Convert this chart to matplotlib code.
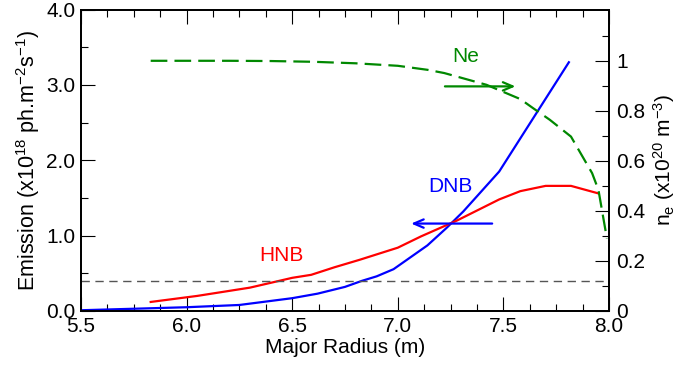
import numpy as np
import matplotlib
matplotlib.use('Agg')
from matplotlib import pyplot as plt
from matplotlib.ticker import MultipleLocator, FixedLocator, FormatStrFormatter

plt.rcParams['font.family'] = ['Liberation Sans', 'DejaVu Sans']
plt.rcParams['mathtext.fontset'] = 'custom'
plt.rcParams['mathtext.rm'] = 'Liberation Sans'
plt.rcParams['mathtext.it'] = 'Liberation Sans:italic'

# DNB emission (x1e18 ph m-2 s-1) vs major radius
dnb_r = [5.5, 5.75, 6.0, 6.25, 6.5, 6.62, 6.75, 6.83, 6.9, 6.98, 7.14, 7.23, 7.31, 7.48, 7.81]
dnb_em = [0.01, 0.03, 0.05, 0.08, 0.17, 0.23, 0.32, 0.40, 0.46, 0.555, 0.87, 1.10, 1.32, 1.85, 3.30]

# HNB emission
hnb_r = [5.83, 6.05, 6.30, 6.50, 6.59, 6.70, 6.82, 7.0, 7.11, 7.28, 7.48, 7.58, 7.70, 7.82, 7.95]
hnb_em = [0.12, 0.20, 0.31, 0.44, 0.48, 0.58, 0.68, 0.84, 0.99, 1.20, 1.48, 1.59, 1.66, 1.66, 1.56]

# electron density (x1e20 m-3)
ne_r = [5.83, 6.0, 6.2, 6.4, 6.6, 6.8, 7.0, 7.14, 7.22, 7.42, 7.58, 7.64, 7.72, 7.82, 7.92, 7.95, 7.99]
ne_val = [1.0, 1.0, 1.0, 0.999, 0.996, 0.99, 0.98, 0.964, 0.951, 0.904, 0.847, 0.811, 0.764, 0.697, 0.551, 0.484, 0.29]

bg_level = 0.4

ne_ticks = [0, 0.2, 0.4, 0.6, 0.8, 1.0]
ne_minor = [0.1, 0.3, 0.5, 0.7, 0.9, 1.1]

fig = plt.figure(figsize=(6.81, 3.71), dpi=100)
ax = fig.add_axes([81/681, 1-311/371, 528/681, 301.5/371])
ax2 = ax.twinx()

ax.plot(dnb_r, dnb_em, color='#0000ff', lw=1.6)
ax.plot(hnb_r, hnb_em, color='#ff0000', lw=1.6)
ax.axhline(bg_level, color='#555555', lw=1.0, ls=(0, (6, 4)))
ax2.plot(ne_r, ne_val, color='#008800', lw=1.6, ls=(0, (7.5, 3.2)))

ax.set_xlim(5.5, 8.0)
ax.set_ylim(0, 4.0)
ax2.set_ylim(0, 1.205)

# arrows + labels
ax.annotate('', xy=(7.57, 2.98), xytext=(7.21, 2.98),
            arrowprops=dict(arrowstyle='->,head_length=0.7,head_width=0.3', color='#008800', lw=1.6))
ax.annotate('', xy=(7.05, 1.16), xytext=(7.46, 1.16),
            arrowprops=dict(arrowstyle='->,head_length=0.7,head_width=0.3', color='#0000ff', lw=1.6))
ax.text(7.32, 3.37, 'Ne', color='#008800', fontsize=15, ha='center', va='center')
ax.text(7.25, 1.65, 'DNB', color='#0000ff', fontsize=15, ha='center', va='center')
ax.text(6.45, 0.74, 'HNB', color='#ff0000', fontsize=15, ha='center', va='center')

ax.xaxis.set_major_locator(MultipleLocator(0.5))
ax.xaxis.set_minor_locator(MultipleLocator(0.125))
ax.yaxis.set_major_locator(MultipleLocator(1.0))
ax.yaxis.set_minor_locator(MultipleLocator(0.5))
ax.xaxis.set_major_formatter(FormatStrFormatter('%.1f'))
ax.yaxis.set_major_formatter(FormatStrFormatter('%.1f'))
ax2.yaxis.set_major_locator(FixedLocator(ne_ticks))
ax2.yaxis.set_minor_locator(FixedLocator(ne_minor))
ax2.yaxis.set_major_formatter(FormatStrFormatter('%g'))

ax.tick_params(which='both', direction='in', top=True, right=False, width=0.8, labelsize=15)
ax.tick_params(which='major', length=10)
ax.tick_params(which='minor', length=5)
ax.tick_params(axis='x', pad=4)
ax.tick_params(axis='y', pad=4)
ax2.tick_params(which='both', direction='in', width=0.8, labelsize=15, pad=5)
ax2.tick_params(which='major', length=10)
ax2.tick_params(which='minor', length=5)

for a in (ax, ax2):
    for s in a.spines.values():
        s.set_linewidth(1.3)

ax.set_xlabel('Major Radius (m)', fontsize=15, labelpad=2)
ax.set_ylabel(r'Emission (x10$^{18}$ ph.m$^{-2}$s$^{-1}$)', fontsize=15.5, labelpad=3)
ax2.set_ylabel(r'n$_\mathregular{e}$ (x10$^{20}$ m$^{-3}$)', fontsize=15, labelpad=4)

fig.savefig('out.png', dpi=100)
